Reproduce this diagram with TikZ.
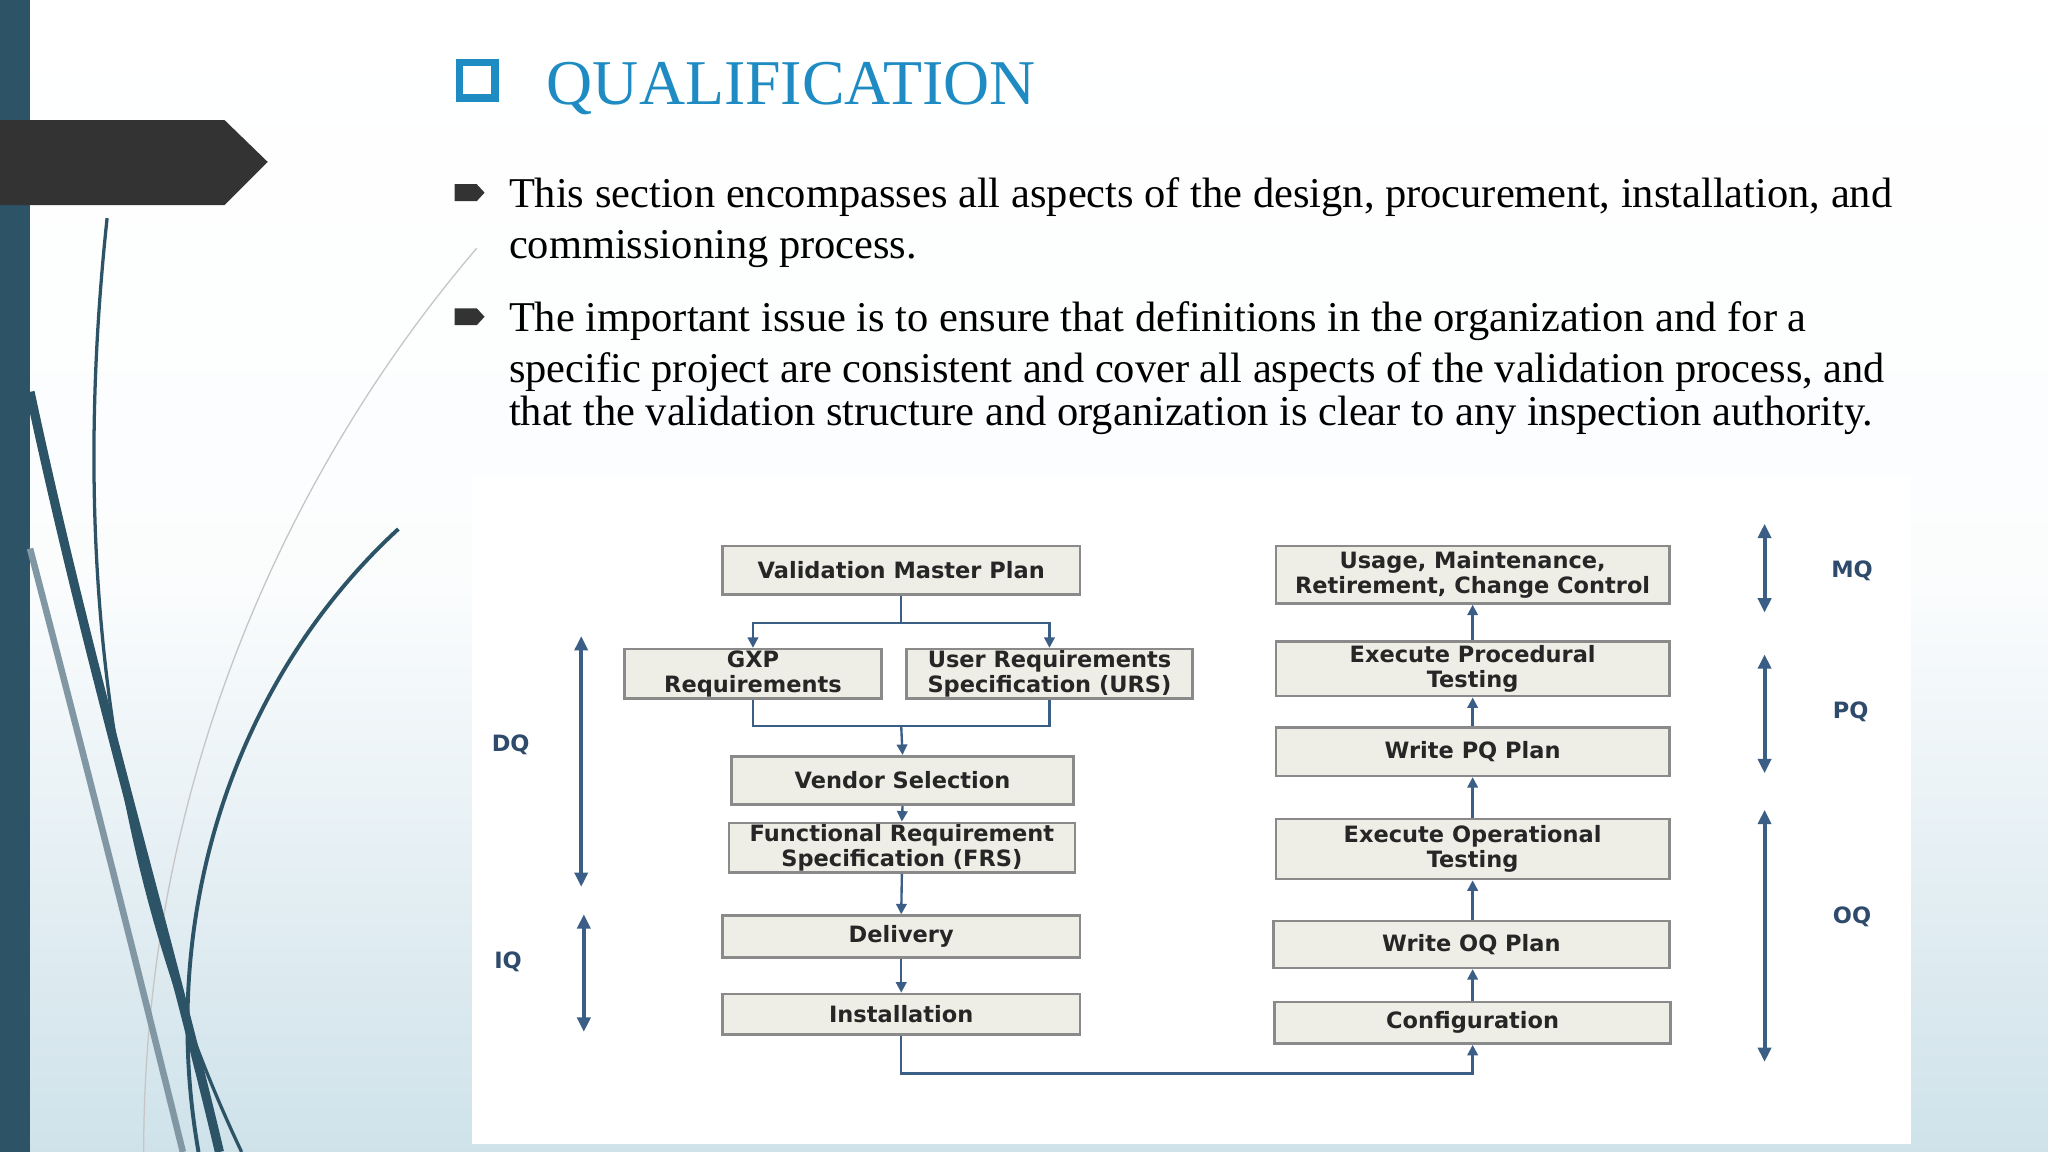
\documentclass[tikz,border=0pt]{standalone}
\usepackage{fontspec}
\setmainfont{Liberation Serif}
\newfontfamily\djfont{DejaVu Sans}
\usetikzlibrary{arrows.meta}
\definecolor{tealx}{HTML}{2D5367}
\definecolor{ttl}{HTML}{1E8BC3}
\definecolor{boxf}{HTML}{EFEEE6}
\definecolor{boxd}{HTML}{8A8A8A}
\definecolor{arr}{HTML}{3B5E86}
\definecolor{bgb}{HTML}{CFE2EA}
\tikzset{
  box/.style={draw=boxd, line width=0.2mm, fill=boxf, inner sep=0pt, align=center, font=\djfont\bfseries\fontsize{4.9}{5.4}\selectfont, text=black!85},
  conn/.style={draw=arr, line width=0.18mm},
  tip/.style={conn, -{Triangle[length=0.8mm,width=0.8mm]}},
  dbl/.style={draw=arr, line width=0.3mm, {Triangle[length=1.1mm,width=1mm]}-{Triangle[length=1.1mm,width=1mm]}},
  lbl/.style={font=\djfont\bfseries\fontsize{4.9}{6}\selectfont, text=arr!80!black},
  body/.style={anchor=base west, inner sep=0pt, font=\fontsize{9.25}{10}\selectfont}
}
\begin{document}
\begin{tikzpicture}[x=0.1mm,y=-0.1mm]
\useasboundingbox (0,0) rectangle (1568,882);
\shade[top color=white, bottom color=bgb, middle color=white!92!bgb] (0,0) rectangle (1568,882);
\fill[tealx] (0,0) rectangle (23,882);
% decorative curves
\draw[gray!45, line width=0.1mm] (365,190) .. controls (220,360) and (110,600) .. (110,882);
\draw[tealx!60, line width=0.5mm] (23,420) .. controls (70,600) and (110,760) .. (140,882);
\draw[tealx, line width=0.7mm] (23,300) .. controls (70,520) and (130,720) .. (168,882);
\draw[tealx, line width=0.25mm] (82,167) .. controls (55,420) and (80,660) .. (185,882);
\draw[tealx, line width=0.3mm] (305,405) .. controls (180,520) and (120,700) .. (152,882);
\fill[black!80] (0,92) -- (172,92) -- (205,124) -- (172,157) -- (0,157) -- cycle;
% title
\draw[ttl, line width=0.55mm] (352,48) rectangle (379,75);
\node[anchor=base west, inner sep=0pt, text=ttl, font=\fontsize{13.9}{15}\selectfont] (title) at (418,80) {QUALIFICATION};
% bullets
\fill[black!80] (348,141) -- (365,141) -- (371,147.5) -- (365,154) -- (348,154) -- cycle;
\fill[black!80] (348,236) -- (365,236) -- (371,242.5) -- (365,249) -- (348,249) -- cycle;
\node[body] (l1) at (389,159) {This section encompasses all aspects of the design, procurement, installation, and};
\node[body] (l2) at (389,198) {commissioning process.};
\node[body] (l3) at (389,254) {The important issue is to ensure that definitions in the organization and for a};
\node[body] (l4) at (389,293) {specific project are consistent and cover all aspects of the validation process, and};
\node[body] (l5) at (389,326) {that the validation structure and organization is clear to any inspection authority.};
% diagram panel
\fill[white] (361,365) rectangle (1463,876);
\node[box, minimum width=27.4mm, minimum height=3.7mm] (vmp) at (690,436.5) {Validation Master Plan};
\node[box, minimum width=19.7mm, minimum height=3.8mm] (gxp) at (576.5,516) {GXP\\Requirements};
\node[box, minimum width=21.9mm, minimum height=3.8mm] (urs) at (803.5,516) {User Requirements\\Specification (URS)};
\node[box, minimum width=26.2mm, minimum height=3.7mm] (vend) at (691,597.5) {Vendor Selection};
\node[box, minimum width=26.5mm, minimum height=3.8mm] (frs) at (690.5,649) {Functional Requirement\\Specification (FRS)};
\node[box, minimum width=27.4mm, minimum height=3.2mm] (del) at (690,717) {Delivery};
\node[box, minimum width=27.4mm, minimum height=3.1mm] (inst) at (690,776.5) {Installation};
\node[box, minimum width=30.1mm, minimum height=4.4mm] (use) at (1127.5,440) {Usage, Maintenance,\\Retirement, Change Control};
\node[box, minimum width=30.1mm, minimum height=4.2mm] (ept) at (1127.5,512) {Execute Procedural\\Testing};
\node[box, minimum width=30.1mm, minimum height=3.7mm] (wpq) at (1127.5,575.5) {Write PQ Plan};
\node[box, minimum width=30.1mm, minimum height=4.6mm] (eot) at (1127.5,650) {Execute Operational\\Testing};
\node[box, minimum width=30.3mm, minimum height=3.6mm] (woq) at (1126.5,723) {Write OQ Plan};
\node[box, minimum width=30.3mm, minimum height=3.2mm] (cfg) at (1127.5,783) {Configuration};
\coordinate (s1) at (690,477);
\coordinate (s2) at (690,556);
\coordinate (s3) at (690,822);
\draw[conn] (vmp.south) -- (s1);
\draw[tip] (s1) -| (gxp.north);
\draw[tip] (s1) -| (urs.north);
\draw[conn] (gxp.south) |- (s2);
\draw[conn] (urs.south) |- (s2);
\draw[tip] (s2) -- (vend.north);
\draw[tip] (vend.south) -- (frs.north);
\draw[tip] (frs.south) -- (del.north);
\draw[tip] (del.south) -- (inst.north);
\draw[tip] (inst.south) -- (s3) -| (cfg.south);
\draw[tip] (cfg.north) -- (cfg.north |- woq.south);
\draw[tip] (eot.south |- woq.north) -- (eot.south);
\draw[tip] (eot.north) -- (wpq.south);
\draw[tip] (wpq.north) -- (ept.south);
\draw[tip] (ept.north) -- (use.south);
% phase arrows
\coordinate (dq1) at (445,487); \coordinate (dq2) at (445,679);
\coordinate (iq1) at (447,700); \coordinate (iq2) at (447,790);
\coordinate (mq1) at (1351,401); \coordinate (mq2) at (1351,469);
\coordinate (pq1) at (1351,501); \coordinate (pq2) at (1351,592);
\coordinate (oq1) at (1351,620); \coordinate (oq2) at (1351,813);
\draw[dbl] (dq1) -- (dq2);
\draw[dbl] (iq1) -- (iq2);
\draw[dbl] (mq1) -- (mq2);
\draw[dbl] (pq1) -- (pq2);
\draw[dbl] (oq1) -- (oq2);
\node[lbl] (dq) at (391,570) {DQ};
\node[lbl] (iq) at (389,736) {IQ};
\node[lbl] (mq) at (1418,437) {MQ};
\node[lbl] (pq) at (1417,545) {PQ};
\node[lbl] (oq) at (1418,702) {OQ};
\end{tikzpicture}
\end{document}
